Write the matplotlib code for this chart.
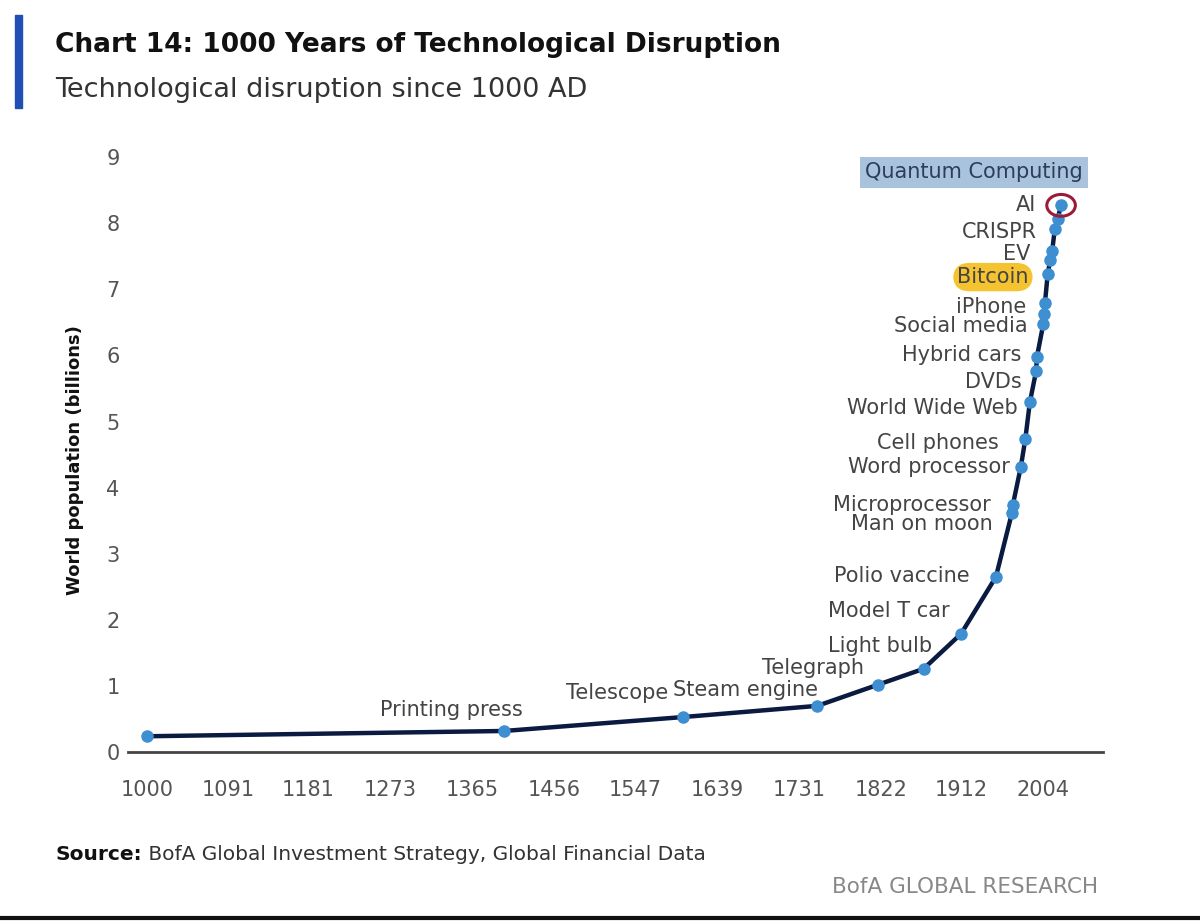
import matplotlib.pyplot as plt
from matplotlib.patches import Ellipse

# data
years = [1000, 1400, 1600, 1751, 1819, 1870, 1912, 1951, 1969, 1970, 1979, 1984,
         1989, 1996, 1997, 2004, 2005, 2006, 2009, 2012, 2014, 2017, 2020, 2024]
population = [0.24, 0.32, 0.53, 0.70, 1.02, 1.26, 1.79, 2.65, 3.62, 3.74, 4.32, 4.74,
              5.29, 5.76, 5.98, 6.47, 6.62, 6.80, 7.23, 7.45, 7.58, 7.91, 8.06, 8.27]
labels = ['', 'Printing press', 'Telescope', 'Steam engine', 'Telegraph', 'Light bulb',
          'Model T car', 'Polio vaccine', 'Man on moon', 'Microprocessor', 'Word processor',
          'Cell phones', 'World Wide Web', 'DVDs', 'Hybrid cars', 'Social media', '',
          'iPhone', 'Bitcoin', '', 'EV', 'CRISPR', '', 'AI']
xtick_labels = [1000, 1091, 1181, 1273, 1365, 1456, 1547, 1639, 1731, 1822, 1912, 2004]
yticks = list(range(10))

# label offsets in pixels (dx to right edge of text, dy up)
offsets = {
    'Printing press': (19, 21), 'Telescope': (-14, 24), 'Steam engine': (1, 16),
    'Telegraph': (-14, 17), 'Light bulb': (9, 23), 'Model T car': (-11, 23),
    'Polio vaccine': (-26, 1), 'Man on moon': (-19, -11), 'Microprocessor': (-22, 0),
    'Word processor': (-11, 0), 'Cell phones': (-27, -4), 'World Wide Web': (-12, -6),
    'DVDs': (-14, -11), 'Hybrid cars': (-16, 2), 'Social media': (-16, -2),
    'iPhone': (-19, -4), 'Bitcoin': (-19, -3), 'EV': (-22, -3), 'CRISPR': (-18, -3),
    'AI': (-25, 0),
}

plt.rcParams['font.family'] = ['DejaVu Sans']

fig = plt.figure(figsize=(12, 9.24), dpi=100)
ax = fig.add_axes([0.1067, 0.186, 0.8125, 0.644])

ax.plot(years, population, color='#0b1a40', lw=3.2, zorder=2)
ax.plot(years, population, 'o', color='#3d8fd1', ms=8, mec='#3d8fd1', zorder=3)

for x, y, t in zip(years, population, labels):
    if not t:
        continue
    dx, dy = offsets[t]
    kw = {}
    if t == 'Bitcoin':
        kw['bbox'] = dict(boxstyle='round,pad=0.2,rounding_size=0.8', fc='#f5c330', ec='none')
    ax.annotate(t, (x, y), xytext=(dx, dy), textcoords='offset pixels',
                ha='right', va='center', fontsize=15, color='#444444', zorder=4, **kw)

# quantum computing label above the top
ax.annotate('Quantum Computing', (years[-1], population[-1]), xytext=(22, 33),
            textcoords='offset pixels', ha='right', va='center', fontsize=15,
            color='#2d3e5c', annotation_clip=False,
            bbox=dict(boxstyle='square,pad=0.25', fc='#a9c3dc', ec='none'))

# red circle around AI
ax.add_patch(Ellipse((years[-1], population[-1]), 32, 0.33, fill=False,
                     ec='#9b1c3a', lw=2.2, zorder=5))

ax.set_xlim(979, 2071)
ax.set_ylim(0, 9)
ax.set_xticks(xtick_labels)
ax.set_xticklabels([str(v) for v in xtick_labels])
ax.set_yticks(yticks)
ax.tick_params(length=0, labelsize=15, colors='#555555')
ax.tick_params(axis='x', pad=20)
ax.tick_params(axis='y', pad=6)
for s in ['top', 'right', 'left']:
    ax.spines[s].set_visible(False)
ax.spines['bottom'].set_color('#444444')
ax.spines['bottom'].set_linewidth(2)
ax.set_ylabel('World population (billions)', fontsize=13, fontweight='bold',
              color='#111111')
ax.yaxis.set_label_coords(-0.045, 0.49)

# header
fig.patches.append(plt.Rectangle((0.0125, 0.883), 0.006, 0.101, transform=fig.transFigure,
                                 color='#1f4fb5'))
fig.text(0.046, 0.951, 'Chart 14: 1000 Years of Technological Disruption', fontsize=19,
         fontweight='bold', color='#111111', va='center')
fig.text(0.046, 0.903, 'Technological disruption since 1000 AD', fontsize=19.5,
         color='#333333', va='center')

# footer
src = fig.text(0.046, 0.075, 'Source:', fontsize=14.5, fontweight='bold', color='#111111',
               va='center')
fig.add_artist(plt.Annotation(' BofA Global Investment Strategy, Global Financial Data',
                              xy=(1, 0.5), xycoords=src, fontsize=14.5, color='#333333',
                              va='center', ha='left'))
fig.text(0.915, 0.040, 'BofA GLOBAL RESEARCH', fontsize=15.5, color='#888888',
         ha='right', va='center')
fig.add_artist(plt.Line2D([0, 1], [0.006, 0.006], transform=fig.transFigure,
                          color='#111111', lw=3))

plt.savefig('out.png')
